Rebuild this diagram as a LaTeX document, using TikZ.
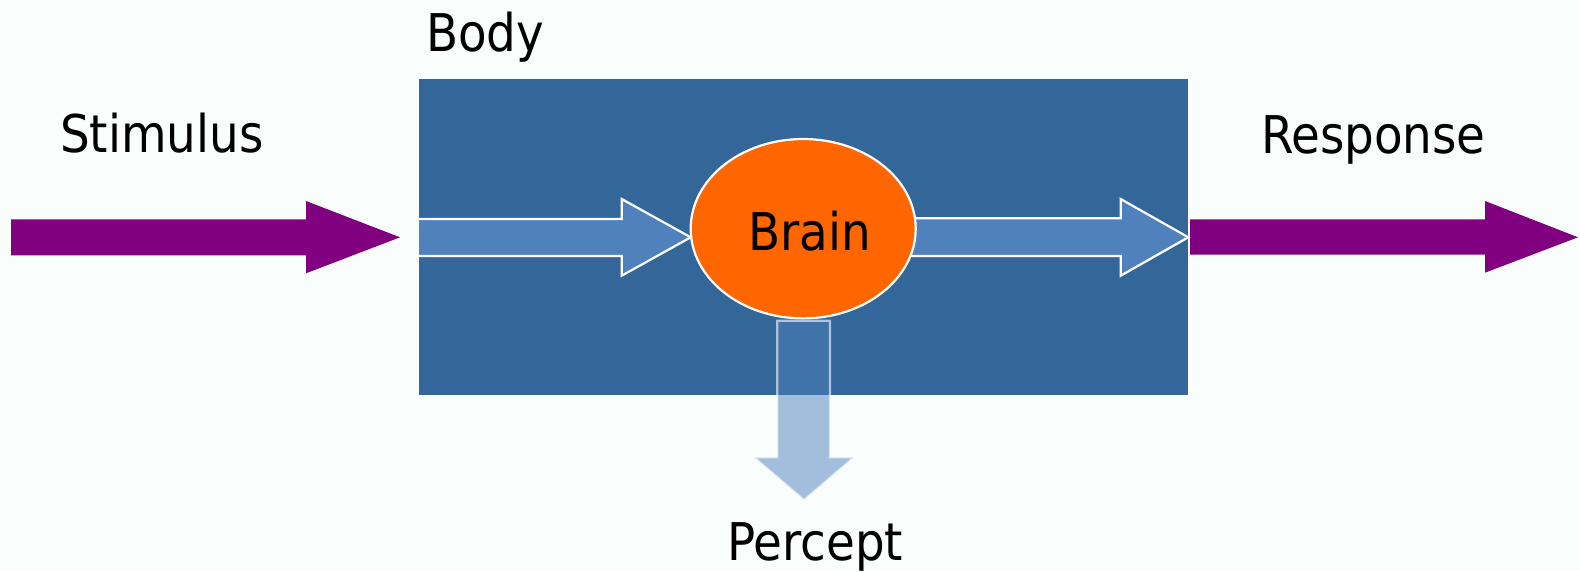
\documentclass[tikz,border=0pt]{standalone}
\usepackage{fontspec}
\setmainfont{DejaVu Sans Condensed}
\usetikzlibrary{shapes.geometric}
\definecolor{bodyblue}{HTML}{336699}
\definecolor{arrowblue}{HTML}{4F81BD}
\definecolor{brainorange}{HTML}{FF6600}
\definecolor{purp}{HTML}{800080}
\definecolor{bg}{RGB}{249,253,252}
\tikzset{
  lbl/.style={anchor=base west, inner sep=0pt, font=\fontsize{52}{60}\selectfont, text=black},
  blockarrow/.style={fill=arrowblue, draw=white, line width=2.2pt, line join=miter},
  bigarrow/.style={fill=purp, draw=none},
}
\begin{document}
\begin{tikzpicture}[x=1pt,y=-1pt]
\useasboundingbox (0,0) rectangle (1580,571);
\fill[bg] (0,0) rectangle (1580,571);
% body
\node[draw=none, fill=bodyblue, inner sep=0pt, minimum width=769pt, minimum height=315.7pt] (body) at (803.8,237.15) {};
% stimulus arrow
\fill[bigarrow] (11,219.3) -- (306,219.3) -- (306,201) -- (400,237.3) -- (306,273.3) -- (306,255.3) -- (11,255.3) -- cycle;
% response arrow
\fill[bigarrow] (1190,219.3) -- (1485,219.3) -- (1485,201) -- (1578,237.3) -- (1485,272.7) -- (1485,254.7) -- (1190,254.7) -- cycle;
% inner arrows
\draw[blockarrow] (419,219) -- (621.7,219) -- (621.7,199) -- (690.7,237.3) -- (621.7,275.7) -- (621.7,256) -- (419,256);
\draw[blockarrow] (905,218.3) -- (1120.7,218.3) -- (1120.7,199) -- (1188.3,237.3) -- (1120.7,275.7) -- (1120.7,256) -- (905,256);
% brain
\node[ellipse, fill=brainorange, draw=white, line width=2.2pt, minimum width=225pt, minimum height=179.4pt, inner sep=0pt] (brain) at (803.2,228.7) {};
\node[lbl] (braintext) at (748,250) {Brain};
% percept arrow
\draw[fill=arrowblue, fill opacity=0.5, draw=white, draw opacity=0.6, line width=2.2pt] (777.3,320.7) -- (830,320.7) -- (830,457.3) -- (854,457.3) -- (804,500) -- (754,457.3) -- (777.3,457.3) -- cycle;
% labels
\node[lbl] (bodylbl) at (426,51.7) {Body};
\node[lbl] (stim) at (60,152.7) {Stimulus};
\node[lbl] (resp) at (1261,153.3) {Response};
\node[lbl] (perc) at (727,560) {Percept};
\end{tikzpicture}
\end{document}
